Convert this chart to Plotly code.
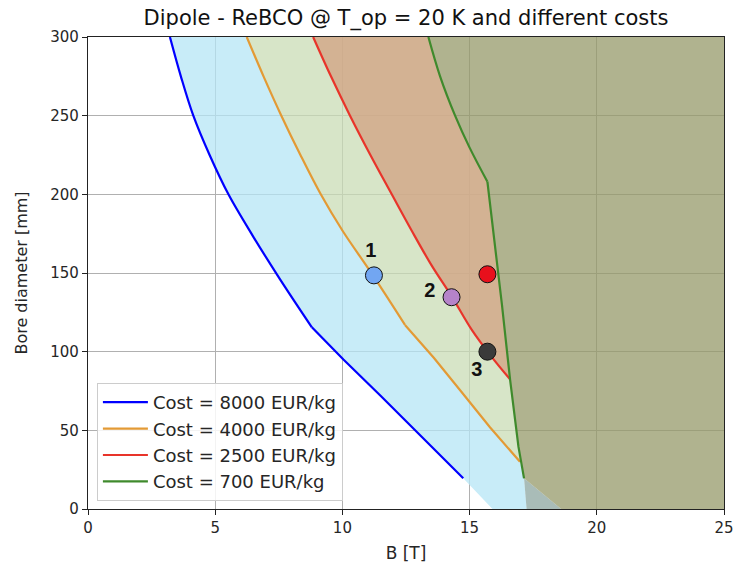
import numpy as np
import plotly.graph_objects as go

# ---------------- data ----------------
B_8000 = [3.22, 3.65, 4.14, 4.78, 5.52, 6.5, 7.55, 8.8, 10.04, 11.5, 13.1, 14.75]
D_8000 = [300, 275, 250, 225, 200, 173, 146, 115.5, 95, 72, 46, 19.5]

B_4000 = [6.24, 6.9, 7.6, 8.35, 9.15, 10.0, 11.22, 12.46, 13.6, 14.62, 15.8, 16.98]
D_4000 = [300, 275, 250, 225, 200, 177, 148, 117, 96, 75.6, 52, 30]

B_2500 = [8.85, 9.55, 10.3, 11.1, 11.94, 12.72, 13.5, 14.3, 15.1, 15.85, 16.59]
D_2500 = [300, 275, 250, 225, 200, 177, 155, 135, 113.5, 97, 82.4]

B_700 = [13.38, 13.84, 14.43, 14.99, 15.70, 15.93, 16.27, 16.59, 16.92, 17.14]
D_700 = [300, 275, 250, 230, 208, 177, 130, 82.4, 39.6, 19.5]

# index where each curve changes from curved to straight (None = smooth all along)
kinks = [7, 7, None, 4]

# extension of the shaded regions below the plotted curves (B at D = 0)
B_blue_fill_end = 15.9
B_mid_fill_end = 17.24
B_green_fill_end = 18.6

series_names = ["Cost = 8000 EUR/kg", "Cost = 4000 EUR/kg",
                "Cost = 2500 EUR/kg", "Cost = 700 EUR/kg"]
line_colors = ["#0000ff", "#e39a35", "#e8342a", "#3f8a2c"]

point_B = [11.24, 14.29, 15.70, 15.70]
point_D = [148.5, 134.6, 149.2, 100.0]
point_colors = ["#72a6f2", "#b583c9", "#e8101c", "#3a3a3a"]

label_text = ["1", "2", "3"]
label_B = [11.12, 13.44, 15.28]
label_D = [163.5, 138.0, 87.5]

x_ticks = [0, 5, 10, 15, 20, 25]
y_ticks = [0, 50, 100, 150, 200, 250, 300]
X_MAX, Y_MAX = 25, 300

# ---------------- figure ----------------
fig = go.Figure()

def poly(xs, ys, color):
    fig.add_trace(go.Scatter(x=list(xs) + [xs[0]], y=list(ys) + [ys[0]],
                             mode="lines", fill="toself", fillcolor=color,
                             line=dict(width=0), hoverinfo="skip",
                             showlegend=False))

gB = np.array(B_700)[::-1]
gD = np.array(D_700)[::-1]
g_at_orange_end = float(np.interp(D_4000[-1], gD, gB))

# light blue: between 8000 and 4000 curves
xs = B_8000 + [B_blue_fill_end, B_mid_fill_end, B_700[-1]] + B_4000[::-1]
ys = D_8000 + [0, 0, D_700[-1]] + D_4000[::-1]
poly(xs, ys, "rgba(182,230,246,0.75)")

# light green: between 4000 and 700 curves
mask = [d > D_4000[-1] for d in D_700]
gx = [b for b, m in zip(B_700, mask) if m]
gy = [d for d, m in zip(D_700, mask) if m]
xs = B_4000 + [g_at_orange_end] + gx[::-1]
ys = D_4000 + [D_4000[-1]] + gy[::-1]
poly(xs, ys, "rgba(202,220,182,0.75)")

# salmon: between 2500 and 700 curves
mask = [d >= D_2500[-1] for d in D_700]
gx = [b for b, m in zip(B_700, mask) if m]
gy = [d for d, m in zip(D_700, mask) if m]
xs = B_2500 + gx[::-1]
ys = D_2500 + gy[::-1]
poly(xs, ys, "rgba(210,160,130,0.75)")

# grey-ish triangle below the 700 curve end
poly([B_700[-1], B_mid_fill_end, B_green_fill_end],
     [D_700[-1], 0, 0], "rgba(140,166,160,0.75)")

# olive: right of 700 curve
xs = B_700 + [B_green_fill_end, X_MAX, X_MAX]
ys = D_700 + [0, 0, Y_MAX]
poly(xs, ys, "rgba(150,154,106,0.75)")

# curves (smooth part as spline, straight part as polyline)
for bx, dy, name, col, k in zip([B_8000, B_4000, B_2500, B_700],
                                [D_8000, D_4000, D_2500, D_700],
                                series_names, line_colors, kinks):
    if k is None:
        parts = [(bx, dy)]
    else:
        parts = [(bx[:k + 1], dy[:k + 1]), (bx[k:], dy[k:])]
    for i, (px, py) in enumerate(parts):
        fig.add_trace(go.Scatter(
            x=px, y=py, mode="lines", name=name, legendgroup=name,
            showlegend=(i == 0),
            line=dict(color=col, width=2.2,
                      shape="spline" if i == 0 else "linear", smoothing=1.0)))

# points
fig.add_trace(go.Scatter(x=point_B, y=point_D, mode="markers", showlegend=False,
                         marker=dict(size=17, color=point_colors,
                                     line=dict(color="#111111", width=1))))
fig.add_trace(go.Scatter(x=label_B, y=label_D, mode="text", text=label_text,
                         showlegend=False,
                         textfont=dict(family="Liberation Sans", size=20,
                                       color="#111111", weight="bold")))

font = "DejaVu Sans"
axis_common = dict(showgrid=True, gridcolor="#b0b0b0", gridwidth=1,
                   zeroline=False, showline=True, linecolor="#222222",
                   linewidth=1.2, mirror=True, ticks="outside", ticklen=5,
                   tickcolor="#222222", automargin=False,
                   tickfont=dict(family=font, size=15, color="#262626"))

fig.update_layout(
    width=735, height=564,
    margin=dict(l=88, r=11, t=37, b=55),
    paper_bgcolor="white", plot_bgcolor="white",
    title=dict(text="Dipole - ReBCO @ T_op = 20 K and different costs",
               x=(88 + 636 / 2) / 735, xanchor="center", y=0.968, yanchor="middle",
               font=dict(family=font, size=21, color="#111111")),
    xaxis=dict(range=[0, X_MAX], tickvals=x_ticks,
               title=dict(text="B [T]", font=dict(family=font, size=17, color="#262626"),
                          standoff=11),
               **axis_common),
    yaxis=dict(range=[0, Y_MAX], tickvals=y_ticks,
               title=dict(text="Bore diameter [mm]",
                          font=dict(family=font, size=16, color="#262626"),
                          standoff=18),
               **axis_common),
    legend=dict(x=0.014, y=0.017, xanchor="left", yanchor="bottom",
                bgcolor="rgba(255,255,255,0.85)", bordercolor="#cccccc",
                borderwidth=1, font=dict(family=font, size=18, color="#262626"),
                tracegroupgap=0, itemwidth=45),
    showlegend=True,
)

fig.write_html("out.html")
